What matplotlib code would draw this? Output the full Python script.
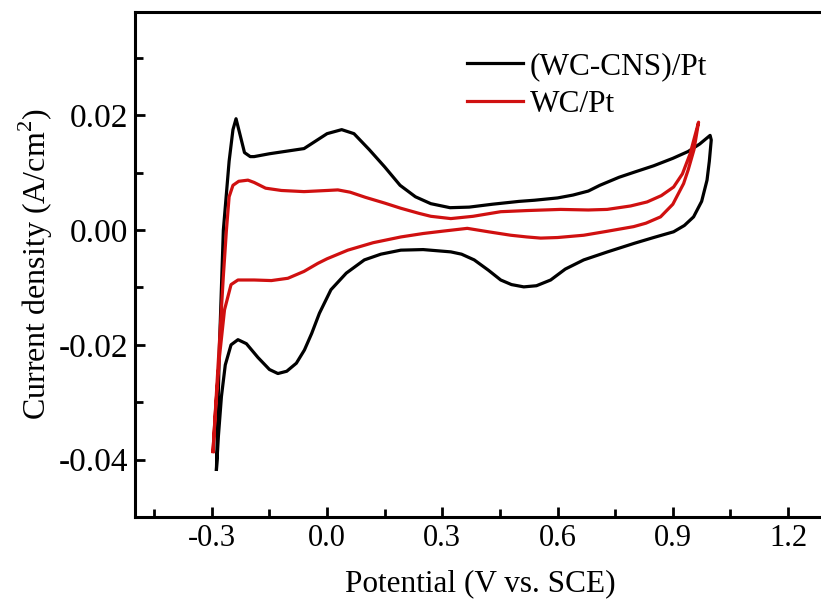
import numpy as np
import matplotlib
matplotlib.use("Agg")
import matplotlib.pyplot as plt
from matplotlib.ticker import MultipleLocator, FormatStrFormatter

plt.rcParams['font.family'] = ['Liberation Serif', 'DejaVu Serif']
plt.rcParams['mathtext.fontset'] = 'custom'
plt.rcParams['mathtext.rm'] = 'Liberation Serif'
plt.rcParams['axes.unicode_minus'] = False

# ---- data (potential V, current density A/cm2) ----
# (WC-CNS)/Pt : anodic sweep then cathodic sweep
cns_x = [-0.288, -0.280, -0.270, -0.255, -0.245, -0.237, -0.228, -0.215, -0.200, -0.190,
         -0.150, -0.100, -0.060, -0.030, 0.000, 0.038, 0.070, 0.110, 0.150, 0.190,
         0.230, 0.270, 0.320, 0.370, 0.430, 0.500, 0.540, 0.600, 0.640, 0.680,
         0.710, 0.760, 0.800, 0.850, 0.900, 0.940, 0.970, 0.997,
         1.000, 0.995, 0.989, 0.975, 0.954, 0.930, 0.902, 0.850, 0.800, 0.730,
         0.668, 0.620, 0.582, 0.545, 0.512, 0.480, 0.452, 0.420, 0.383, 0.350,
         0.322, 0.250, 0.192, 0.140, 0.097, 0.050, 0.010, -0.020, -0.040, -0.059,
         -0.080, -0.105, -0.128, -0.150, -0.180, -0.210, -0.232, -0.250, -0.265, -0.275,
         -0.283, -0.288]
cns_y = [-0.0417, -0.0200, 0.0000, 0.0120, 0.0175, 0.0194, 0.0170, 0.0135, 0.0128, 0.0128,
         0.0133, 0.0138, 0.0142, 0.0155, 0.0168, 0.0175, 0.0168, 0.0140, 0.0110, 0.0078,
         0.0058, 0.0046, 0.0039, 0.0040, 0.0045, 0.0050, 0.0052, 0.0056, 0.0061, 0.0068,
         0.0078, 0.0092, 0.0101, 0.0112, 0.0125, 0.0137, 0.0150, 0.0165,
         0.0157, 0.0120, 0.0087, 0.0050, 0.0023, 0.0008, -0.0003, -0.0013, -0.0023, -0.0038,
         -0.0052, -0.0068, -0.0087, -0.0097, -0.0099, -0.0095, -0.0087, -0.0070, -0.0052, -0.0042,
         -0.0038, -0.0034, -0.0035, -0.0042, -0.0052, -0.0075, -0.0104, -0.0145, -0.0180, -0.0209,
         -0.0232, -0.0246, -0.0250, -0.0243, -0.0222, -0.0198, -0.0191, -0.0200, -0.0235, -0.0290,
         -0.0360, -0.0417]

# WC/Pt
wc_x = [-0.297, -0.285, -0.270, -0.262, -0.255, -0.245, -0.230, -0.206, -0.190, -0.160,
        -0.119, -0.060, 0.000, 0.028, 0.060, 0.100, 0.150, 0.192, 0.240, 0.270,
        0.322, 0.380, 0.452, 0.520, 0.608, 0.680, 0.729, 0.790, 0.833, 0.870,
        0.902, 0.925, 0.945, 0.967,
        0.955, 0.940, 0.928, 0.900, 0.868, 0.830, 0.798, 0.730, 0.668, 0.600,
        0.556, 0.520, 0.478, 0.420, 0.365, 0.300, 0.250, 0.192, 0.120, 0.054,
        0.000, -0.024, -0.060, -0.102, -0.145, -0.190, -0.232, -0.250, -0.267, -0.280,
        -0.290, -0.297]
wc_y = [-0.0386, -0.0250, -0.0080, 0.0000, 0.0058, 0.0078, 0.0085, 0.0087, 0.0083, 0.0073,
        0.0069, 0.0067, 0.0069, 0.0070, 0.0066, 0.0057, 0.0047, 0.0038, 0.0029, 0.0024,
        0.0020, 0.0024, 0.0032, 0.0034, 0.0036, 0.0035, 0.0036, 0.0042, 0.0049, 0.0060,
        0.0075, 0.0098, 0.0133, 0.0188,
        0.0140, 0.0105, 0.0081, 0.0045, 0.0023, 0.0012, 0.0006, -0.0002, -0.0009, -0.0013,
        -0.0014, -0.0012, -0.0009, -0.0003, 0.0003, -0.0002, -0.0006, -0.0012, -0.0022, -0.0035,
        -0.0050, -0.0058, -0.0072, -0.0084, -0.0088, -0.0087, -0.0087, -0.0095, -0.0139, -0.0220,
        -0.0310, -0.0386]

labels = ["(WC-CNS)/Pt", "WC/Pt"]

fig = plt.figure(figsize=(8.21, 6.01), dpi=100)
ax = fig.add_axes([135 / 821, 84 / 601, 691.5 / 821, 505 / 601])

ax.plot(cns_x, cns_y, color="black", lw=2.3, label=labels[0])
ax.plot(wc_x, wc_y, color="#d01010", lw=2.3, label=labels[1])

ax.set_xlim(-0.5, 1.3)
ax.set_ylim(-0.05, 0.038)
ax.xaxis.set_major_locator(MultipleLocator(0.3))
ax.xaxis.set_minor_locator(MultipleLocator(0.15))
ax.yaxis.set_major_locator(MultipleLocator(0.02))
ax.yaxis.set_minor_locator(MultipleLocator(0.01))
ax.xaxis.set_major_formatter(FormatStrFormatter('%.1f'))
ax.yaxis.set_major_formatter(FormatStrFormatter('%.2f'))

ax.tick_params(which='both', direction='in', width=2)
ax.tick_params(which='major', length=7)
ax.tick_params(which='minor', length=6)
ax.tick_params(axis='y', pad=5, labelsize=24)
ax.tick_params(axis='x', pad=5, labelsize=22)
for s in ax.spines.values():
    s.set_linewidth(2.2)

ax.set_xlabel("Potential (V vs. SCE)", fontsize=22.5, labelpad=12)
ax.set_ylabel("Current density (A/cm$^{2}$)", fontsize=23)
ax.yaxis.set_label_coords(-0.116, 0.5)

ax.legend(loc='upper left', bbox_to_anchor=(0.48, 0.92), frameon=False,
          fontsize=22.5, borderpad=0, borderaxespad=0, handlelength=1.8,
          handletextpad=0.2, labelspacing=0.26)

plt.savefig("out.png", dpi=100)
